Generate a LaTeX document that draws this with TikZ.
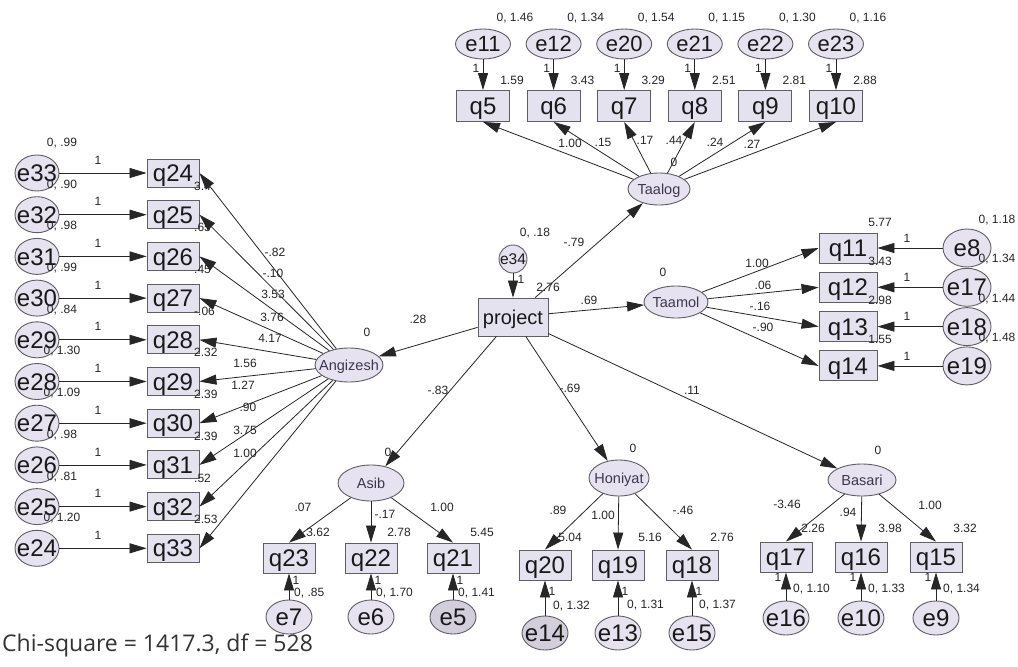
\documentclass[tikz,border=0pt]{standalone}
\usepackage{fontspec}
\setmainfont{Liberation Sans}
\newfontfamily\chifont{Open Sans}
\usetikzlibrary{arrows.meta,shapes.geometric}
\definecolor{efill}{HTML}{E6E2F0}
\definecolor{edark}{HTML}{D2CEDC}
\definecolor{qfill}{HTML}{E4E2EE}
\definecolor{bord}{HTML}{5E5E66}
\definecolor{lat}{HTML}{3E3650}
\definecolor{ln}{HTML}{262626}
\newcommand\zt[1]{\raisebox{-0.36em}[0pt][0pt]{\makebox[0pt]{#1}}}
\begin{document}
\begin{tikzpicture}[x=1pt,y=-1pt,
  qbox/.style={draw=bord,fill=qfill,line width=0.9pt,minimum width=52pt,minimum height=30pt,inner sep=0pt,font=\fontsize{24}{24}\selectfont,text=black!90},
  eov/.style={ellipse,draw=bord,fill=efill,line width=0.9pt,minimum width=44pt,minimum height=36pt,inner sep=0pt,font=\fontsize{24}{24}\selectfont,text=black!90},
  latent/.style={ellipse,draw=bord,fill=efill,line width=0.9pt,inner sep=0pt,font=\fontsize{14.5}{14.5}\selectfont,text=lat},
  lbl/.style={font=\fontsize{12}{12}\selectfont,inner sep=0pt,text=black!85},
  arr/.style={draw=ln,line width=0.8pt,-{Triangle[length=17pt,width=10pt]}}]
\useasboundingbox[fill=white] (0,0) rectangle (1018,667);

% ---------- nodes ----------
% left column
\foreach \en/\qn [count=\k from 0] in {33/24,32/25,31/26,30/27,29/28,28/29,27/30,26/31,25/32,24/33}{
  \pgfmathsetmacro\yy{173+41.7*\k}
  \node[eov] (e\en) at (37,\yy) {\zt{e\en}};
  \node[qbox,minimum height=28pt] (q\qn) at (173,\yy) {\zt{q\qn}};
}
% top row
\foreach \en/\qn [count=\k from 0] in {11/5,12/6,20/7,21/8,22/9,23/10}{
  \pgfmathsetmacro\xx{483+70.6*\k}
  \node[eov,minimum width=55pt,minimum height=30pt,font=\fontsize{22}{22}\selectfont] (e\en) at (\xx,44) {\zt{e\en}};
  \node[qbox,minimum width=53pt,minimum height=31pt] (q\qn) at (\xx,106) {\zt{q\qn}};
}
% right column
\foreach \en/\qn [count=\k from 0] in {8/11,17/12,18/13,19/14}{
  \pgfmathsetmacro\yy{248+39.3*\k}
  \node[qbox,minimum width=58pt] (q\qn) at (848,\yy) {\zt{q\qn}};
  \node[eov,minimum width=48pt,minimum height=38pt] (e\en) at (967,\yy) {\zt{e\en}};
}
% bottom groups
\foreach \en/\qn/\xx/\qy/\ey/\fc in {7/23/289/558/617/efill,6/22/371/558/617/efill,5/21/453/558/617/edark,14/20/545/565/633/edark,13/19/618/565/633/efill,15/18/692/565/633/efill,16/17/786/557/618/efill,10/16/861/557/618/efill,9/15/936/557/618/efill}{
  \node[qbox] (q\qn) at (\xx,\qy) {\zt{q\qn}};
  \node[eov,fill=\fc,minimum width=46pt,minimum height=34pt] (e\en) at (\xx,\ey) {\zt{e\en}};
}
% latent variables
\node[latent,minimum width=68pt,minimum height=34pt] (Angizesh) at (349,365) {\zt{Angizesh}};
\node[latent,minimum width=62pt,minimum height=32pt] (Taalog) at (659,189) {\zt{Taalog}};
\node[latent,minimum width=64pt,minimum height=32pt] (Taamol) at (676,302) {\zt{Taamol}};
\node[latent,minimum width=66pt,minimum height=36pt] (Asib) at (371,483) {\zt{Asib}};
\node[latent,minimum width=60pt,minimum height=36pt] (Honiyat) at (619,478) {\zt{Honiyat}};
\node[latent,minimum width=68pt,minimum height=32pt] (Basari) at (862,480) {\zt{Basari}};
\node[qbox,minimum width=70pt,minimum height=38pt,font=\fontsize{20}{20}\selectfont] (project) at (513,317) {\zt{project}};
\node[eov,circle,minimum size=28pt,font=\fontsize{15.5}{15.5}\selectfont] (e34) at (513,259) {\zt{e34}};

% ---------- labels ----------
\foreach \va/\ic [count=\k from 0] in {.99/3.4,.90/.65,.98/.45,.99/-.06,.84/2.32,1.30/2.39,1.09/2.39,.98/.52,.81/2.53,1.20/{}}{
  \pgfmathsetmacro\yy{173+41.7*\k}
  \node[lbl] at (62,\yy-30) {0, \va};
  \node[lbl,anchor=west] at (194,\yy+13) {\ic};
  \node[lbl] at (98,\yy-13) {1};
}
\foreach \va/\ic [count=\k from 0] in {1.46/1.59,1.34/3.43,1.54/3.29,1.15/2.51,1.30/2.81,1.16/2.88}{
  \pgfmathsetmacro\xx{483+70.6*\k}
  \node[lbl] at (\xx+32,18) {0, \va};
  \node[lbl] at (\xx+29,80) {\ic};
  \node[lbl] at (\xx-7,68) {1};
}
\foreach \va/\ic [count=\k from 0] in {1.18/5.77,1.34/3.43,1.44/2.98,1.48/1.55}{
  \pgfmathsetmacro\yy{248+39.3*\k}
  \node[lbl] at (997,\yy-28) {0, \va};
  \node[lbl] at (880,\yy-26) {\ic};
  \node[lbl] at (907,\yy-10) {1};
}
% bottom labels
\node[lbl] at (296,580) {1}; \node[lbl,anchor=west] at (294,593) {0, .85}; \node[lbl] at (318,532) {3.62};
\node[lbl] at (378,580) {1}; \node[lbl,anchor=west] at (376,593) {0, 1.70}; \node[lbl] at (399,532) {2.78};
\node[lbl] at (460,580) {1}; \node[lbl,anchor=west] at (458,593) {0, 1.41}; \node[lbl] at (482,532) {5.45};
\node[lbl] at (552,591) {1}; \node[lbl,anchor=west] at (553,606) {0, 1.32}; \node[lbl] at (570,537) {5.04};
\node[lbl] at (625,591) {1}; \node[lbl,anchor=west] at (627,605) {0, 1.31}; \node[lbl] at (650,537) {5.16};
\node[lbl] at (699,591) {1}; \node[lbl,anchor=west] at (699,605) {0, 1.37}; \node[lbl] at (722,537) {2.76};
\node[lbl] at (778,577) {1}; \node[lbl,anchor=west] at (793,589) {0, 1.10}; \node[lbl] at (813,528) {2.26};
\node[lbl] at (853,577) {1}; \node[lbl,anchor=west] at (868,589) {0, 1.33}; \node[lbl] at (890,528) {3.98};
\node[lbl] at (928,577) {1}; \node[lbl,anchor=west] at (943,589) {0, 1.34}; \node[lbl] at (965,528) {3.32};
% structural labels
\node[lbl] at (303,507) {.07}; \node[lbl] at (385,514) {-.17}; \node[lbl] at (442,507) {1.00}; \node[lbl] at (388,452) {0};
\node[lbl] at (558,510) {.89}; \node[lbl] at (603,515) {1.00}; \node[lbl] at (683,510) {-.46}; \node[lbl] at (633,448) {0};
\node[lbl] at (787,504) {-3.46}; \node[lbl] at (848,512) {.94}; \node[lbl] at (930,505) {1.00}; \node[lbl] at (878,450) {0};
\node[lbl] at (418,319) {.28}; \node[lbl] at (574,242) {-.79}; \node[lbl] at (548,287) {2.76}; \node[lbl] at (589,300) {.69};
\node[lbl] at (438,390) {-.83}; \node[lbl] at (570,388) {-.69}; \node[lbl] at (692,390) {.11};
\node[lbl] at (535,233) {0, .18}; \node[lbl] at (521,279) {1};
\node[lbl] at (674,162) {0};
\node[lbl] at (570,143) {1.00}; \node[lbl] at (603,142) {.15}; \node[lbl] at (645,140) {.17};
\node[lbl] at (674,140) {.44}; \node[lbl] at (715,142) {.24}; \node[lbl] at (752,144) {.27};
\node[lbl] at (663,272) {0};
\node[lbl] at (757,263) {1.00}; \node[lbl] at (763,285) {.06}; \node[lbl] at (760,306) {-.16}; \node[lbl] at (763,327) {-.90};
\node[lbl] at (367,332) {0};
\node[lbl] at (275,252) {-.82}; \node[lbl] at (273,273) {-.10}; \node[lbl] at (273,294) {3.53};
\node[lbl] at (272,317) {3.76}; \node[lbl] at (270,338) {4.17}; \node[lbl] at (245,363) {1.56};
\node[lbl] at (243,385) {1.27}; \node[lbl] at (248,407) {.90}; \node[lbl] at (245,430) {3.75};
\node[lbl] at (245,453) {1.00};
\node[anchor=west,inner sep=0pt,font=\chifont\fontsize{23}{23}\selectfont,text=black!80] (chi) at (2,645) {Chi-square = 1417.3, df = 528};

% ---------- arrows ----------
\foreach \en/\qn in {33/24,32/25,31/26,30/27,29/28,28/29,27/30,26/31,25/32,24/33,11/5,12/6,20/7,21/8,22/9,23/10,8/11,17/12,18/13,19/14,7/23,6/22,5/21,14/20,13/19,15/18,16/17,10/16,9/15}{
  \draw[arr] (e\en) -- (q\qn);
}
\foreach \qn in {24,...,33}{\draw[arr] (Angizesh) -- (q\qn.east);}
\foreach \qn in {5,...,10}{\draw[arr] (Taalog) -- (q\qn.south);}
\foreach \qn in {11,...,14}{\draw[arr] (Taamol) -- (q\qn.west);}
\foreach \qn in {23,22,21}{\draw[arr] (Asib) -- (q\qn.north);}
\foreach \qn in {20,19,18}{\draw[arr] (Honiyat) -- (q\qn.north);}
\foreach \qn in {17,16,15}{\draw[arr] (Basari) -- (q\qn.north);}
\foreach \t in {Angizesh,Taalog,Taamol,Asib,Honiyat,Basari}{\draw[arr] (project) -- (\t);}
\draw[arr] (e34) -- (project);
\end{tikzpicture}
\end{document}
